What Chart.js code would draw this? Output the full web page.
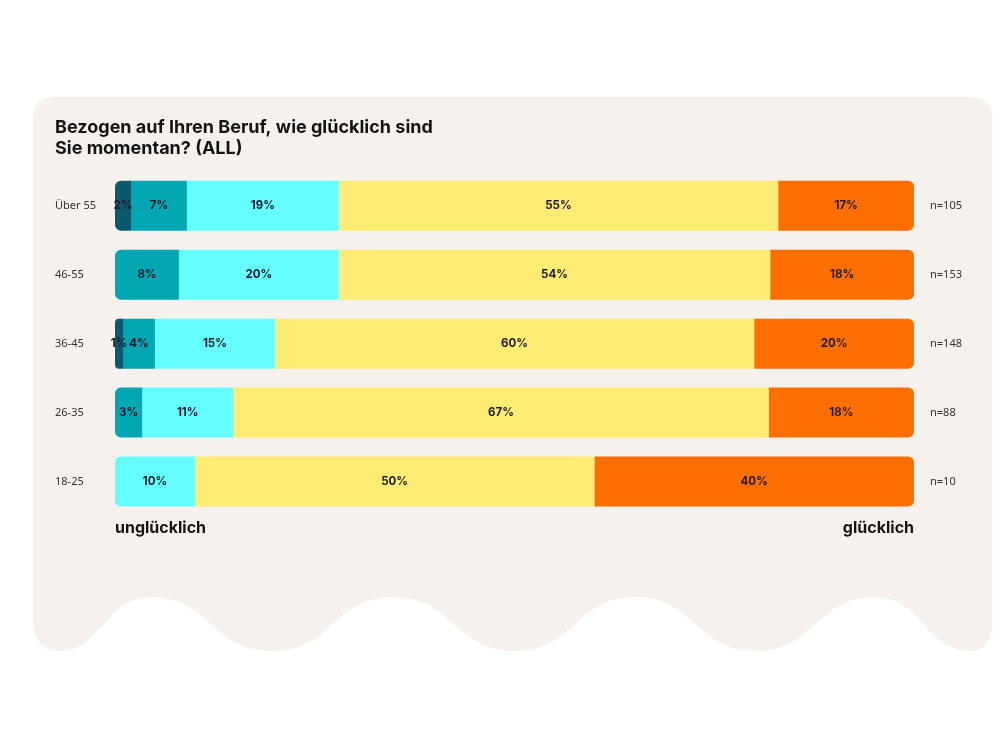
<!DOCTYPE html>
<html>
<head>
<meta charset="utf-8">
<title>Glück im Beruf</title>
<script src="https://cdn.jsdelivr.net/npm/chart.js@4/dist/chart.umd.min.js"></script>
<style>
    body { margin: 0; background: #ffffff; }
    .wrap { width: 1000px; height: 750px; position: relative; }
</style>
</head>
<body>
<div class="wrap"><canvas id="happiness"></canvas></div>
<script>
const ageGroups = ['Über 55', '46-55', '36-45', '26-35', '18-25'];
const sampleSizes = ['n=105', 'n=153', 'n=148', 'n=88', 'n=10'];
const scaleEnds = ['unglücklich', 'glücklich'];

// share per answer, from unhappy to happy (in %)
const level1 = [2, 0, 1, 0, 0];
const level2 = [7, 8, 4, 3.4, 0];
const level3 = [19, 20, 15, 11.4, 10];
const level4 = [55, 54, 60, 67, 50];
const level5 = [17, 18, 20, 18.2, 40];

const colors = ['#0a5a6c', '#00a7b2', '#66ffff', '#ffec75', '#ff6e00'];

// beige card with the wavy bottom edge
const cardBackground = {
    id: 'cardBackground',
    beforeDraw(chart) {
        const c = chart.ctx;
        const left = 33, right = 992, top = 97, r = 22;
        const low = 651, high = 597;
        const troughs = [58, 272, 515, 756, 972];
        const peaks = [150, 393, 635, 875];
        c.save();
        c.fillStyle = '#f6f1ec';
        c.beginPath();
        c.moveTo(left, top + r);
        c.quadraticCurveTo(left, top, left + r, top);
        c.lineTo(right - r, top);
        c.quadraticCurveTo(right, top, right, top + r);
        c.lineTo(right, 622);
        c.bezierCurveTo(right, 642, 984, low, troughs[4], low);
        let x0 = troughs[4];
        for (let i = peaks.length - 1; i >= 0; i--) {
            const p = peaks[i], t = troughs[i];
            let d = (x0 - p) * 0.5;
            c.bezierCurveTo(x0 - d, low, p + d, high, p, high);
            d = (p - t) * 0.5;
            c.bezierCurveTo(p - d, high, t + d, low, t, low);
            x0 = t;
        }
        c.bezierCurveTo(46, low, left, 642, left, 622);
        c.closePath();
        c.fill();
        c.restore();
    }
};

// percentage text in the middle of each segment
const segmentLabels = {
    id: 'segmentLabels',
    afterDatasetsDraw(chart) {
        const c = chart.ctx;
        c.save();
        c.font = '700 11.5px Inter';
        c.fillStyle = '#1d1d2c';
        c.textAlign = 'center';
        c.textBaseline = 'middle';
        chart.data.datasets.forEach((ds, i) => {
            chart.getDatasetMeta(i).data.forEach((bar, j) => {
                const v = ds.data[j];
                if (!v) return;
                const {x, y, base} = bar.getProps(['x', 'y', 'base'], true);
                c.fillText(Math.round(v) + '%', (x + base) / 2, y);
            });
        });
        c.restore();
    }
};

function roundEnds(ctx) {
    if (ctx.dataIndex === undefined) return 0;
    const vals = ctx.chart.data.datasets.map(d => d.data[ctx.dataIndex]);
    const first = vals.findIndex(v => v > 0);
    let last = -1;
    vals.forEach((v, i) => { if (v > 0) last = i; });
    const l = ctx.datasetIndex === first ? 6 : 0;
    const rr = ctx.datasetIndex === last ? 6 : 0;
    return {topLeft: l, bottomLeft: l, topRight: rr, bottomRight: rr};
}

const series = [level1, level2, level3, level4, level5];
const data = {
    labels: ageGroups,
    datasets: series.map((vals, i) => ({
        data: vals,
        backgroundColor: colors[i],
        borderWidth: 0,
        borderSkipped: false,
        borderRadius: roundEnds,
        categoryPercentage: 1,
        barPercentage: 0.725
    }))
};

const ctx = document.getElementById('happiness');
const happinessChart = new Chart(ctx, {
    type: 'bar',
    data: data,
    plugins: [cardBackground, segmentLabels],
    options: {
        indexAxis: 'y',
        responsive: true,
        maintainAspectRatio: false,
        animation: false,
        events: [],
        layout: {
            padding: {left: 55, right: 0, top: 0, bottom: 194}
        },
        plugins: {
            legend: { display: false },
            tooltip: { enabled: false },
            title: {
                display: true,
                text: ['Bezogen auf Ihren Beruf, wie glücklich sind', 'Sie momentan? (ALL)'],
                align: 'start',
                color: '#141414',
                font: { family: 'Inter', size: 18, weight: '700', lineHeight: 1.12 },
                padding: { top: 118, bottom: 13 }
            }
        },
        scales: {
            x: {
                stacked: true,
                min: 0,
                max: 100,
                grid: { display: false, drawTicks: false },
                border: { display: false },
                afterFit(scale) { scale.height = 40; },
                afterBuildTicks(scale) {
                    scale.ticks = [{value: 0}, {value: 100}];
                },
                ticks: {
                    align: 'inner',
                    padding: 3,
                    color: '#141414',
                    font: { family: 'Inter', size: 16, weight: '700' },
                    callback: (v) => v === 0 ? scaleEnds[0] : scaleEnds[1]
                }
            },
            y: {
                stacked: true,
                grid: { display: false },
                border: { display: false },
                afterFit(scale) { scale.width = 60; },
                ticks: {
                    crossAlign: 'far',
                    color: '#333333',
                    font: { family: 'Noto Sans', size: 11 }
                }
            },
            y2: {
                type: 'category',
                position: 'right',
                labels: sampleSizes,
                offset: true,
                grid: { display: false, drawTicks: false },
                border: { display: false },
                afterFit(scale) { scale.width = 86; },
                ticks: {
                    padding: 16,
                    color: '#333333',
                    font: { family: 'Noto Sans', size: 11 }
                }
            }
        }
    }
});
</script>
</body>
</html>
